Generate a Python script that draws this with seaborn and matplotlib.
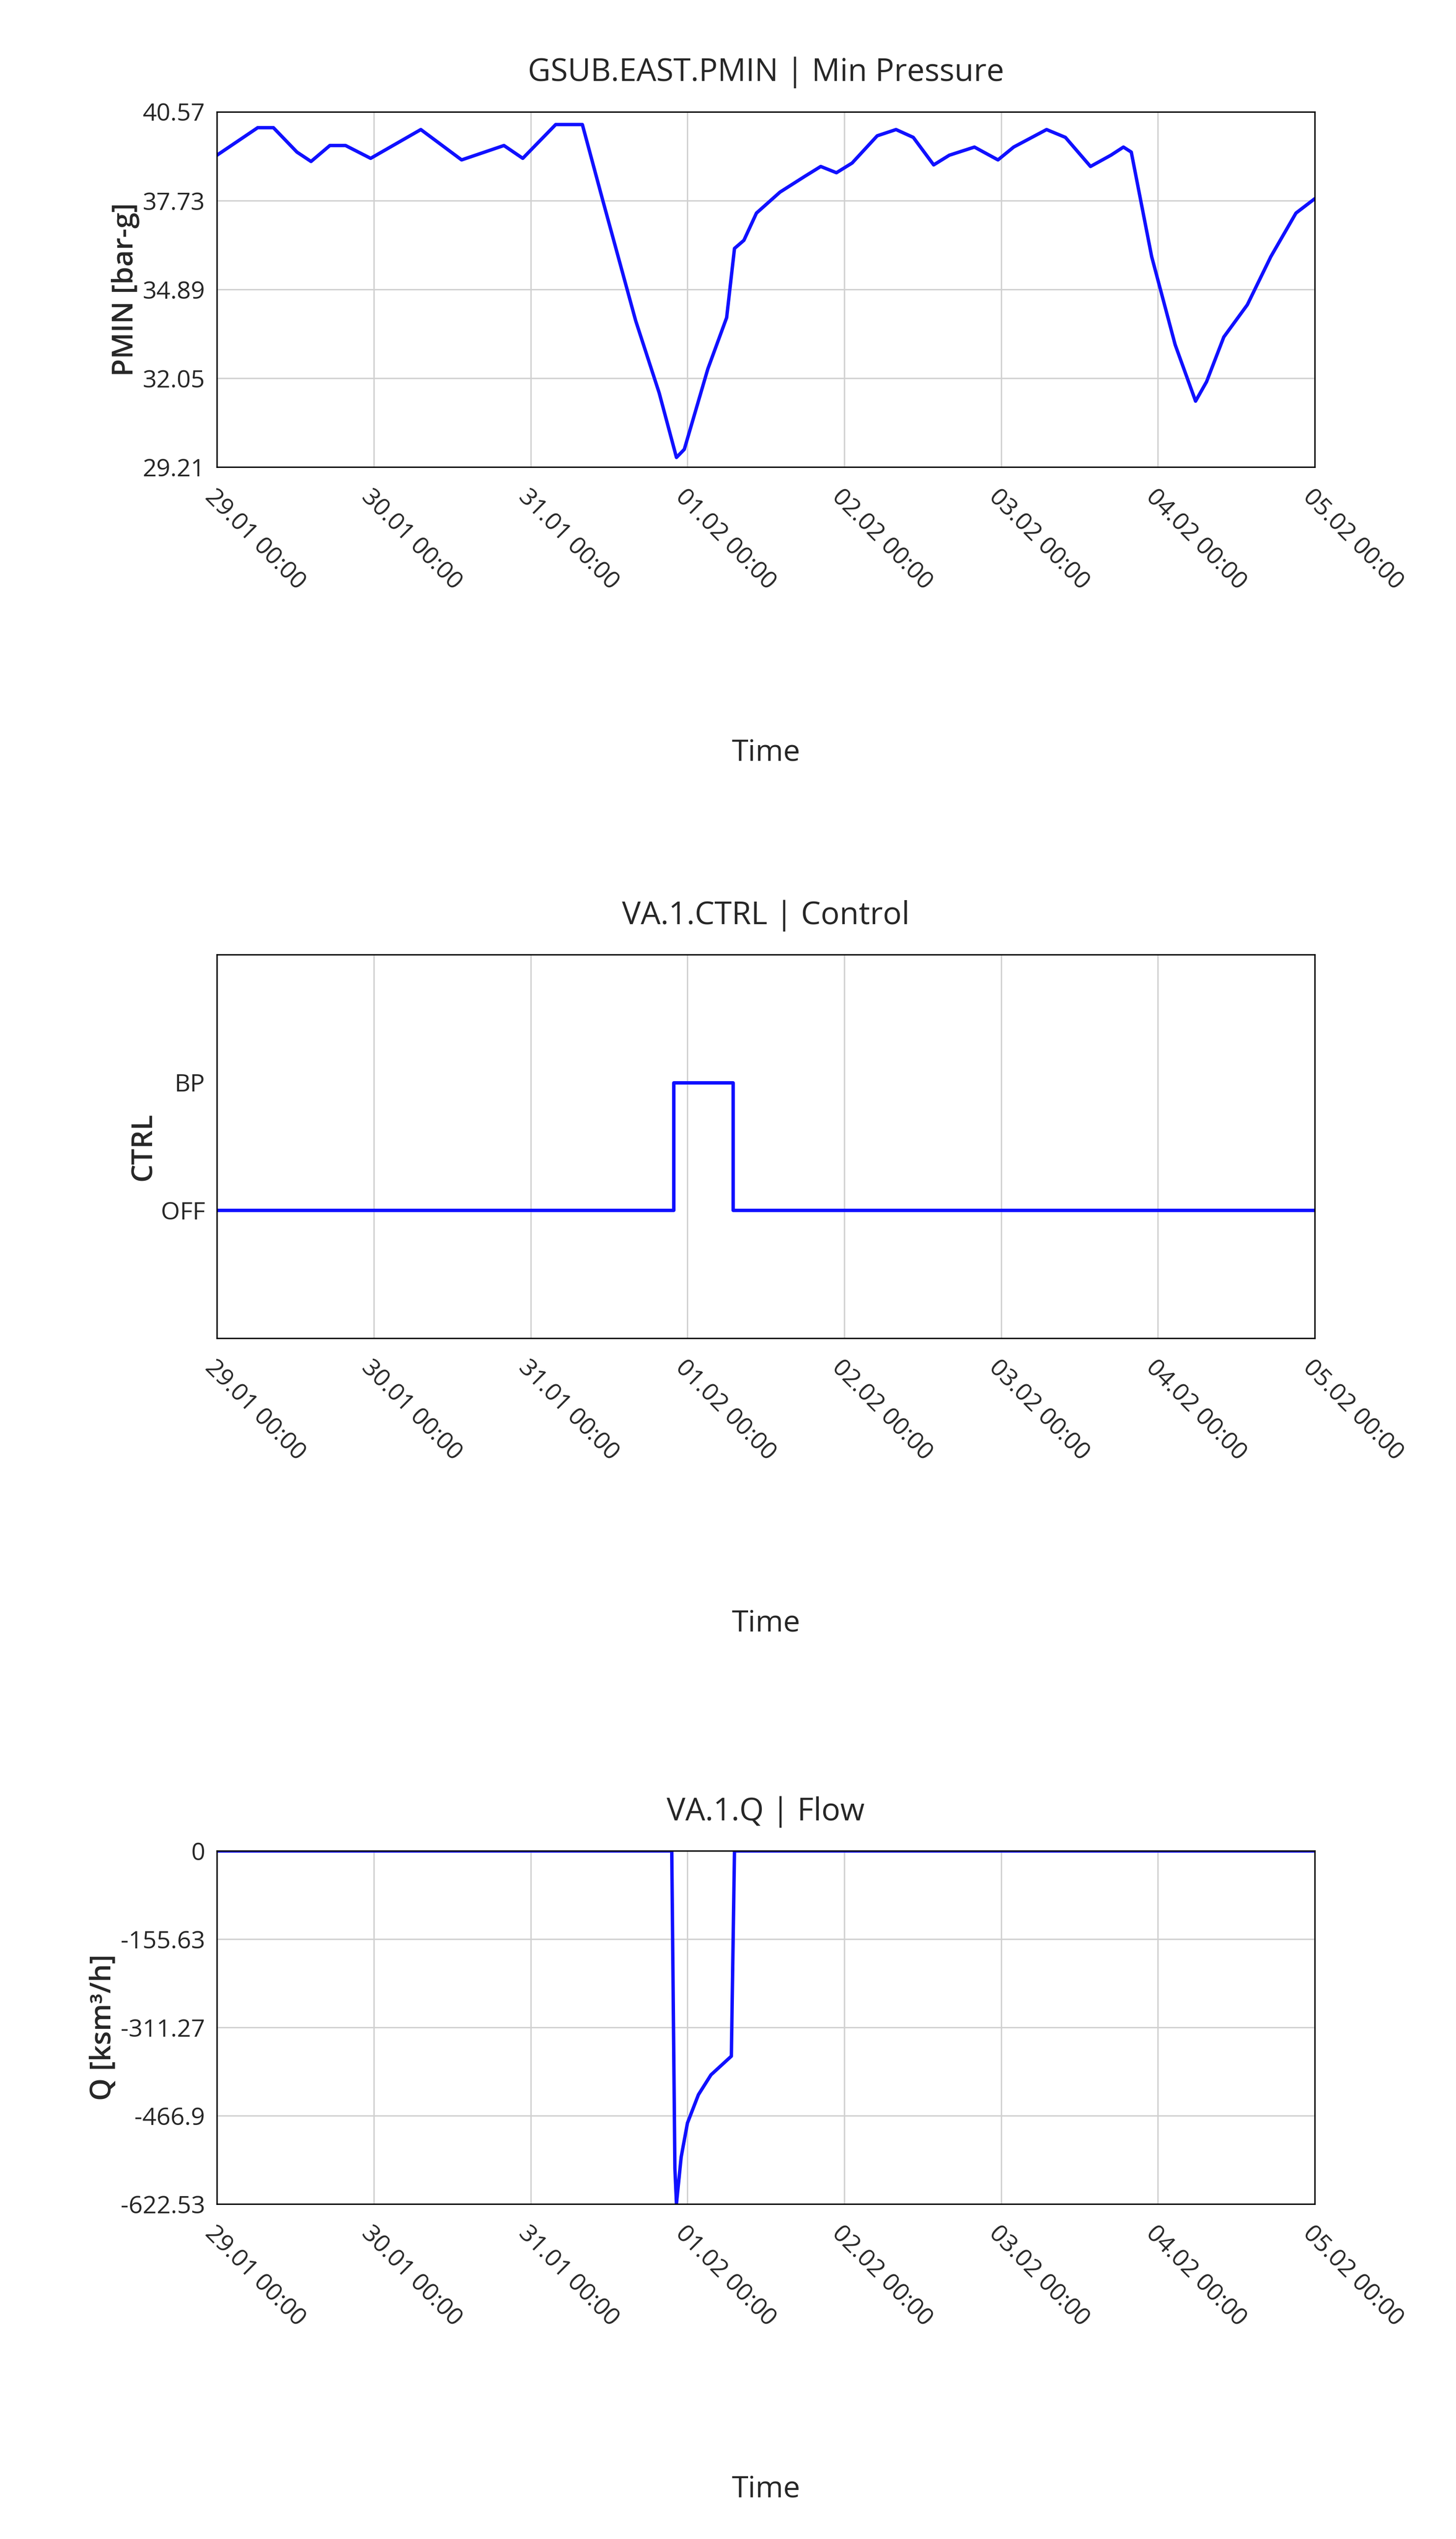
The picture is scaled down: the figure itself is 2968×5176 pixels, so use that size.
import numpy as np
import pandas as pd
import seaborn as sns
import matplotlib.pyplot as plt

# time in days since 29.01 00:00
pmin_t = [0, 0.26, 0.36, 0.51, 0.60, 0.72, 0.82, 0.98, 1.30, 1.56, 1.83, 1.95, 2.16, 2.33, 2.46,
          2.67, 2.82, 2.93, 2.98, 3.13, 3.25, 3.30, 3.36, 3.44, 3.59, 3.75, 3.85, 3.95, 4.05, 4.21,
          4.33, 4.44, 4.57, 4.67, 4.83, 4.98, 5.08, 5.29, 5.41, 5.57, 5.70, 5.78, 5.83, 5.96, 6.11,
          6.24, 6.31, 6.42, 6.57, 6.72, 6.88, 7.0]
pmin_v = [39.18, 40.06, 40.06, 39.28, 38.98, 39.49, 39.49, 39.08, 40.00, 39.03, 39.49, 39.08, 40.16,
          40.16, 37.74, 33.89, 31.58, 29.52, 29.78, 32.35, 33.99, 36.20, 36.46, 37.33, 38.00, 38.51,
          38.82, 38.62, 38.93, 39.80, 40.00, 39.75, 38.87, 39.18, 39.44, 39.03, 39.44, 40.00, 39.75,
          38.82, 39.18, 39.44, 39.28, 35.94, 33.12, 31.32, 31.94, 33.37, 34.40, 35.94, 37.33, 37.79]

ctrl_t = [0, 2.91, 2.91, 3.29, 3.29, 7.0]
ctrl_v = [0, 0, 1, 1, 0, 0]

flow_t = [0, 2.90, 2.92, 2.93, 2.96, 3.00, 3.07, 3.15, 3.28, 3.30, 7.0]
flow_v = [0, 0, -560, -622, -540, -480, -430, -395, -362, 0, 0]

tick_days = [0, 1, 2, 3, 4, 5, 6, 7]
tick_labels = ["29.01 00:00", "30.01 00:00", "31.01 00:00", "01.02 00:00",
               "02.02 00:00", "03.02 00:00", "04.02 00:00", "05.02 00:00"]

pmin_ticks = [29.21, 32.05, 34.89, 37.73, 40.57]
flow_ticks = [-622.53, -466.9, -311.27, -155.63, 0]

sns.set_style("whitegrid")
plt.rcParams['font.family'] = ['Open Sans', 'DejaVu Sans']

fig = plt.figure(figsize=(29.68, 51.76), dpi=100)
left, width = 0.149, 0.754
axes = [fig.add_axes([left, 0.816, width, 0.140]),
        fig.add_axes([left, 0.473, width, 0.151]),
        fig.add_axes([left, 0.132, width, 0.139])]

series = [(pmin_t, pmin_v, "GSUB.EAST.PMIN | Min Pressure", "PMIN [bar-g]"),
          (ctrl_t, ctrl_v, "VA.1.CTRL | Control", "CTRL"),
          (flow_t, flow_v, "VA.1.Q | Flow", "Q [ksm³/h]")]

for ax, (t, v, title, ylab) in zip(axes, series):
    df = pd.DataFrame({"t": t, "v": v})
    sns.lineplot(data=df, x="t", y="v", ax=ax, color="#1010ff", linewidth=5,
                 sort=False, estimator=None)
    ax.set_xlim(0, 7)
    ax.set_xticks(tick_days)
    ax.set_xticklabels(tick_labels, rotation=-45, ha="left", rotation_mode="anchor", fontsize=36)
    ax.set_title(title, fontsize=46, pad=45)
    ax.set_xlabel("Time", fontsize=44, labelpad=210)
    ax.set_ylabel(ylab, fontsize=42, fontweight="semibold")
    ax.tick_params(axis="y", labelsize=36, length=14, color="black", width=2)
    ax.tick_params(axis="x", length=14, color="black", width=2, pad=12)
    ax.grid(color="#d0d0d0", linewidth=2)
    for s in ax.spines.values():
        s.set_color("black")
        s.set_linewidth(2)

axes[0].set_ylim(29.21, 40.57)
axes[0].set_yticks(pmin_ticks)
axes[0].set_yticklabels([f"{x:.2f}" for x in pmin_ticks])

axes[1].set_ylim(-1, 2)
axes[1].set_yticks([-1, 0, 1, 2])
axes[1].set_yticklabels(["", "OFF", "BP", ""])
axes[1].grid(axis="y", visible=False)

axes[2].set_ylim(-622.53, 0)
axes[2].set_yticks(flow_ticks)
axes[2].set_yticklabels(["-622.53", "-466.9", "-311.27", "-155.63", "0"])

fig.savefig("out.png", dpi=100, facecolor="white")
